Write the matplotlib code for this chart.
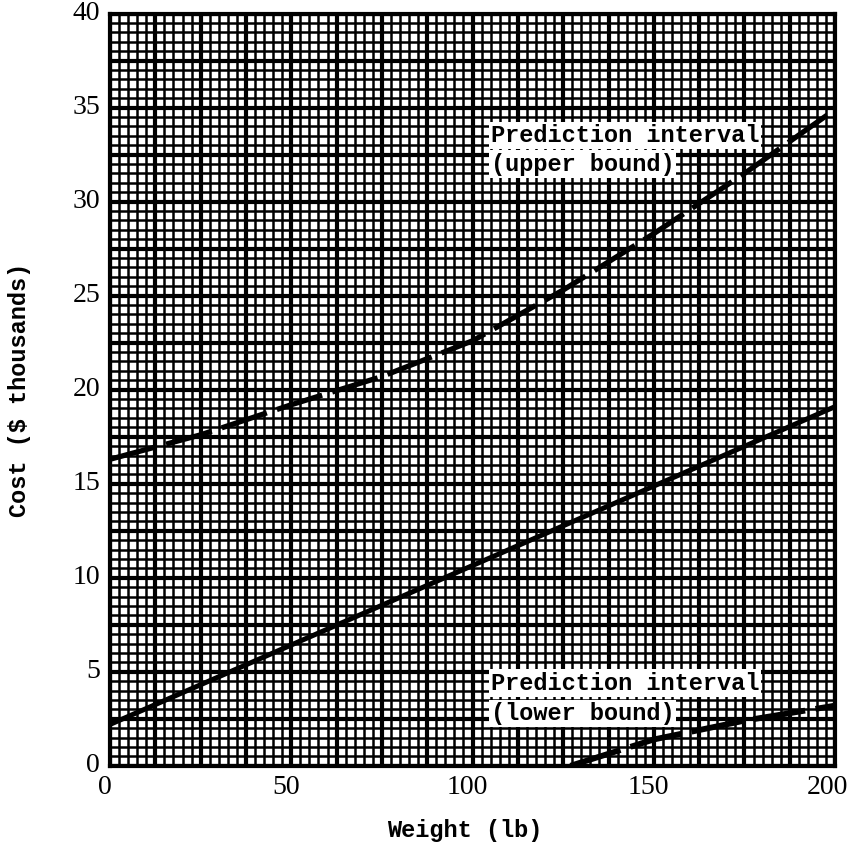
import numpy as np
import matplotlib
matplotlib.use("Agg")
import matplotlib.pyplot as plt

# valores (peso en lb, costo en miles de $)
peso_recta = [0, 200]
costo_recta = [2.2, 19.1]

peso_sup = [0, 25, 50, 75, 100, 125, 150, 175, 200]
costo_sup = [16.3, 17.6, 19.2, 20.7, 22.6, 25.3, 28.3, 31.5, 34.9]

peso_inf = [127, 150, 175, 200]
costo_inf = [0.0, 1.4, 2.4, 3.2]

ticks_x = [0, 50, 100, 150, 200]
ticks_y = [0, 5, 10, 15, 20, 25, 30, 35, 40]

fuente_maquina = "Liberation Mono"
fuente_numeros = "Liberation Serif"


def main():
    fig = plt.figure(figsize=(8.53, 8.49), dpi=100)
    ax = fig.add_axes([0.129, 0.098, 0.850, 0.886])

    ax.set_xlim(0, 200)
    ax.set_ylim(0, 40)

    # papel milimetrado: 16 cuadros mayores por lado, 5 menores en cada uno
    ax.set_xticks(np.arange(0, 200.1, 12.5), minor=False)
    ax.set_xticks(np.arange(0, 200.1, 2.5), minor=True)
    ax.set_yticks(np.arange(0, 40.1, 2.5), minor=False)
    ax.set_yticks(np.arange(0, 40.1, 0.5), minor=True)
    ax.grid(which="minor", color="black", linewidth=1.8)
    ax.grid(which="major", color="black", linewidth=3.0)
    ax.set_axisbelow(True)

    # los numeros de los ejes no coinciden con la rejilla, van aparte
    ax.set_xticklabels([])
    ax.set_yticklabels([])
    ax.tick_params(which="both", length=0)
    for v in ticks_x:
        dx = -1.4 if v < 200 else -2.0
        ax.text(v + dx, -1.17, str(v), ha="center", va="center",
                fontsize=20, family=fuente_numeros, clip_on=False)
    for v in ticks_y:
        ax.text(-2.7, v, str(v), ha="right", va="center",
                fontsize=20, family=fuente_numeros, clip_on=False)

    for s in ax.spines.values():
        s.set_linewidth(3)
        s.set_color("black")

    # recta de regresion y limites del intervalo de prediccion
    ax.plot(peso_recta, costo_recta, color="black", linewidth=3.6,
            solid_capstyle="butt", zorder=5)
    ax.plot(peso_sup, costo_sup, color="black", linewidth=3.8,
            dashes=(9, 2.0), zorder=5)
    ax.plot(peso_inf, costo_inf, color="black", linewidth=4.2,
            dashes=(9, 1.8), zorder=5)

    caja = dict(facecolor="white", edgecolor="none", pad=1.5)
    etiquetas = [(33.5, "Prediction interval"), (32.0, "(upper bound)"),
                 (4.4, "Prediction interval"), (2.8, "(lower bound)")]
    for y, t in etiquetas:
        ax.text(105, y, t, ha="left", va="center", fontsize=17,
                family=fuente_maquina, weight="bold", bbox=caja, zorder=6)

    fig.text(465 / 853, 1 - 830 / 849, "Weight (lb)", ha="center", va="center",
             fontsize=17, family=fuente_maquina, weight="bold")
    fig.text(20 / 853, 1 - 390 / 849, "Cost ($ thousands)", ha="center", va="center",
             rotation=90, fontsize=17, family=fuente_maquina, weight="bold")

    fig.savefig("out.png", dpi=100, facecolor="white")


if __name__ == "__main__":
    main()
